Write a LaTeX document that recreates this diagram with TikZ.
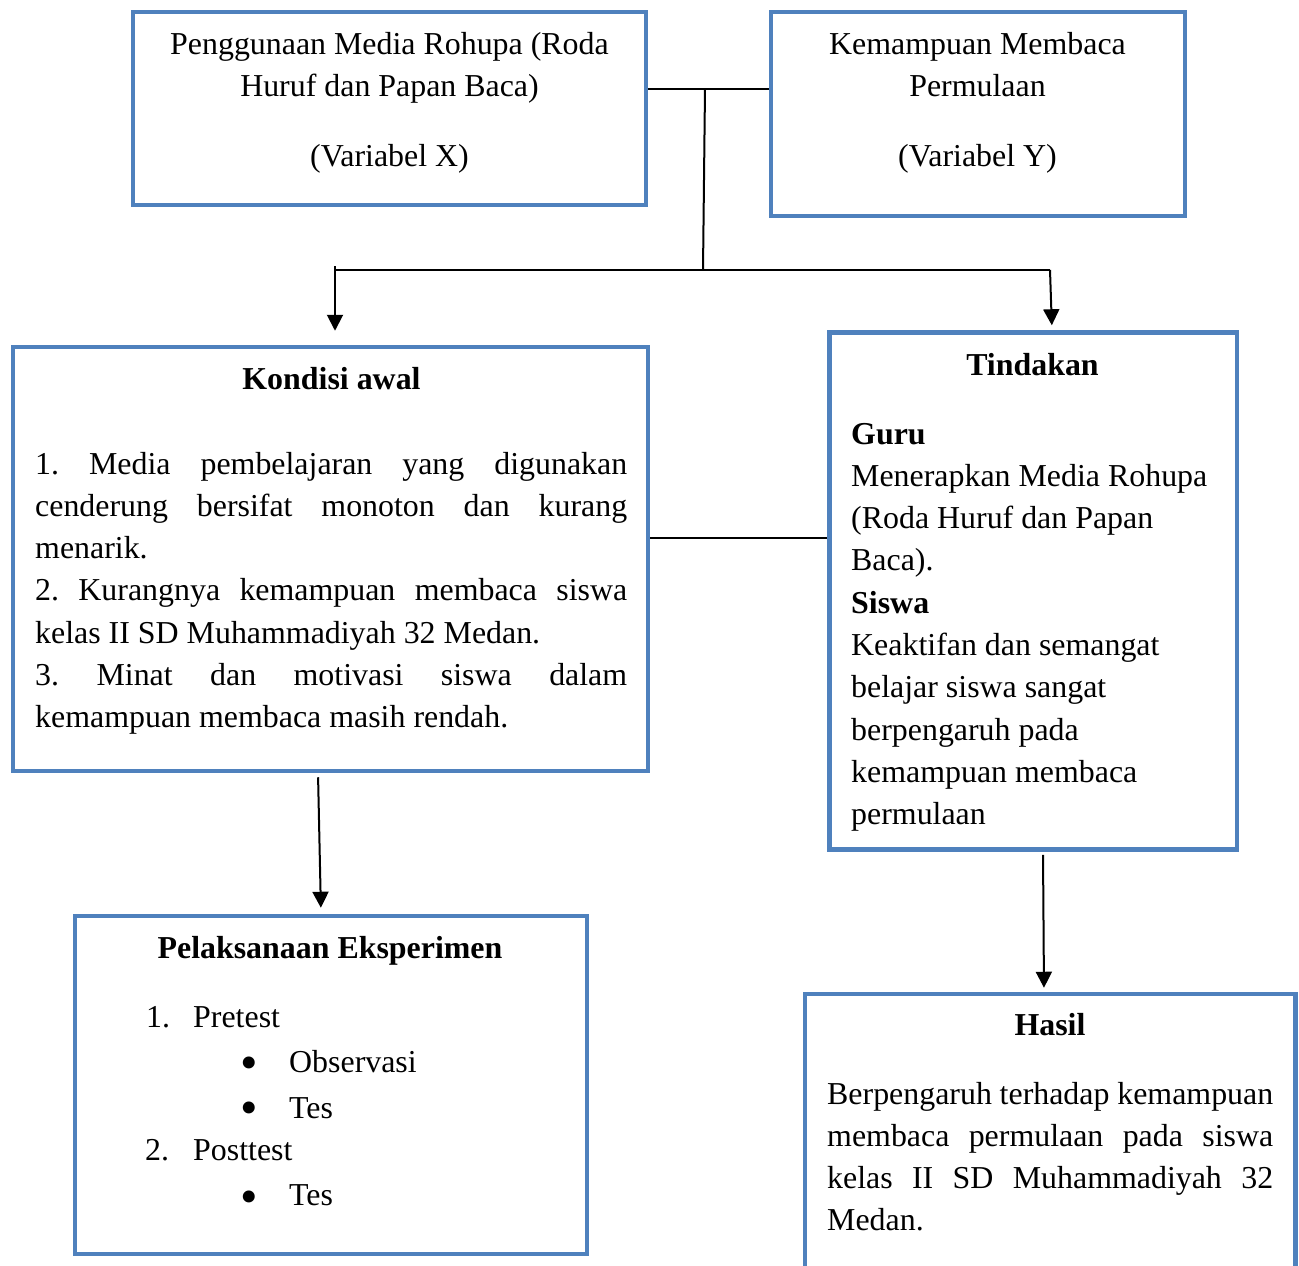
\documentclass[tikz,border=0pt]{standalone}
\usepackage{fontspec}
\setmainfont{Liberation Serif}
\usetikzlibrary{arrows.meta}
\definecolor{wordblue}{RGB}{79,129,189}
\hyphenpenalty=10000
\exhyphenpenalty=10000
\tolerance=10000
\frenchspacing
\newcommand{\natsp}{\spaceskip=0pt\xspaceskip=0pt\relax}
\tikzset{
  box/.style={draw=wordblue, line width=4.5pt, rectangle, inner sep=0pt},
  txt/.style={inner sep=0pt, font=\fontsize{31.9}{42.3}\selectfont},
  ttl/.style={txt, font=\fontsize{31.9}{42.3}\selectfont\bfseries},
  bul/.style={inner sep=0pt, anchor=base, font=\fontsize{50}{50}\selectfont},
  conn/.style={draw=black, line width=2pt},
  arr/.style={conn, -{Triangle[width=16pt,length=16pt]}}
}
\begin{document}
\begin{tikzpicture}[x=1pt,y=-1pt]
\useasboundingbox (0,0) rectangle (1299,1266);
% boxes
\node[box, minimum width=513, minimum height=193] (bx) at (389.5,108.5) {};
\node[box, minimum width=414, minimum height=204] (by) at (978,114) {};
\node[box, minimum width=635, minimum height=424] (ka) at (330.5,559) {};
\node[box, minimum width=407.5, minimum height=517] (td) at (1033.25,591) {};
\node[box, minimum width=512, minimum height=338] (pe) at (331,1085) {};
\node[box, minimum width=490.5, minimum height=300] (ha) at (1050.25,1144) {};
% texts
\node[txt, text width=513, align=flush center, anchor=base] (tx) at (389.5,54)
  {\natsp Penggunaan Media Rohupa (Roda\\ \natsp Huruf dan Papan Baca)\\[27.7pt] \natsp(Variabel X)};
\node[txt, text width=414, align=flush center, anchor=base] (ty) at (977.5,54)
  {\natsp Kemampuan Membaca\\ \natsp Permulaan\\[27.7pt] \natsp(Variabel Y)};
\node[ttl, anchor=base] (kattl) at (331.5,389) {Kondisi awal};
\node[txt, text width=592, align=justify, anchor=base west] (kat) at (35,474)
  {1. Media pembelajaran yang digunakan\linebreak cenderung bersifat monoton dan kurang\linebreak menarik.\par
   2. Kurangnya kemampuan membaca siswa\linebreak kelas II SD Muhammadiyah 32 Medan.\par
   3. Minat dan motivasi siswa dalam\linebreak kemampuan membaca masih rendah.};
\node[ttl, anchor=base] (tdttl) at (1032.5,375) {Tindakan};
\node[txt, text width=380, align=left, anchor=base west] (tdt) at (851,444)
  {\natsp\textbf{Guru}\\ Menerapkan Media Rohupa\\ (Roda Huruf dan Papan\\ Baca).\\ \textbf{Siswa}\\ Keaktifan dan semangat\\ belajar siswa sangat\\ berpengaruh pada\\ kemampuan membaca\\ permulaan};
\node[ttl, anchor=base] (pettl) at (330,958) {Pelaksanaan Eksperimen};
\node[txt, anchor=base west] (n1) at (146,1027) {1.};
\node[txt, anchor=base west] (pre) at (193,1027) {Pretest};
\node[bul] (b1) at (249,1079) {\smash{•}};
\node[txt, anchor=base west] (obs) at (289,1072) {Observasi};
\node[bul] (b2) at (249,1124) {\smash{•}};
\node[txt, anchor=base west] (tes1) at (289,1118) {Tes};
\node[txt, anchor=base west] (n2) at (145,1160) {2.};
\node[txt, anchor=base west] (post) at (193,1160) {Posttest};
\node[bul] (b3) at (249,1213) {\smash{•}};
\node[txt, anchor=base west] (tes2) at (289,1205) {Tes};
\node[ttl, anchor=base] (hattl) at (1050,1035) {Hasil};
\node[txt, text width=446, align=justify, anchor=base west] (hat) at (827,1104)
  {Berpengaruh terhadap kemampuan\linebreak membaca permulaan pada siswa\linebreak kelas II SD Muhammadiyah 32\linebreak Medan.};
% connectors
\coordinate (j1) at (705,89);
\coordinate (j2) at (703,270);
\coordinate (jl) at (335,270);
\coordinate (jl0) at (335,266);
\coordinate (jr) at (1050,270);
\coordinate (jr2) at (1052,270);
\coordinate (jm) at (740,538);
\coordinate (a1) at (318,0);
\coordinate (a2) at (321,0);
\coordinate (c1) at (1043,0);
\coordinate (c2) at (1044,0);
\draw[conn] (bx.east |- j1) -- (by.west |- j1);
\draw[conn] (j1) -- (j2);
\draw[conn] (jl) -- (jr);
\draw[arr, shorten >=14pt] (jl0) -- (jl0 |- ka.north);
\draw[arr, shorten >=5pt] (jr) -- (jr2 |- td.north);
\draw[conn] (ka.east |- jm) -- (td.west |- jm);
\draw[arr, shorten <=4pt, shorten >=6pt] (a1 |- ka.south) -- (a2 |- pe.north);
\draw[arr, shorten <=3pt, shorten >=4pt] (c1 |- td.south) -- (c2 |- ha.north);
\end{tikzpicture}
\end{document}
